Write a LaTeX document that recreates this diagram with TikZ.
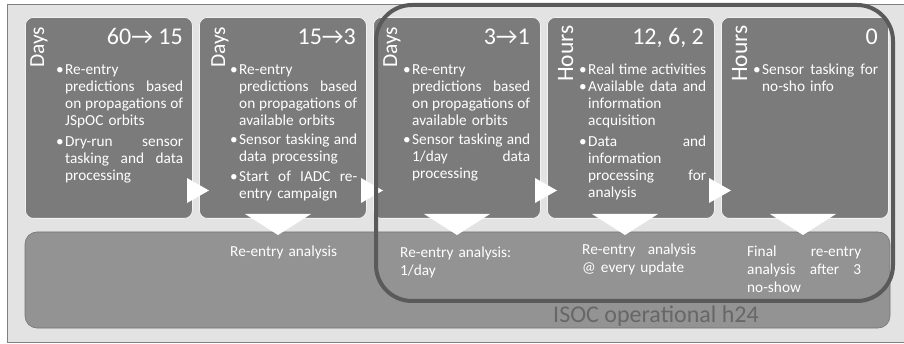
\documentclass[tikz,border=0pt]{standalone}
\usepackage{fontspec}
\setmainfont{Carlito}
\definecolor{bgc}{HTML}{E3E3E3}
\definecolor{framec}{HTML}{808080}
\definecolor{boxc}{HTML}{7B7B7B}
\definecolor{bandc}{HTML}{939393}
\definecolor{bandedge}{HTML}{767676}
\definecolor{outc}{HTML}{5A5A5A}
\definecolor{isocc}{HTML}{676767}
\tikzset{
  stagebox/.style={draw=white!90!gray, line width=0.8pt, fill=boxc, rounded corners=8pt, minimum width=167pt, minimum height=201pt, anchor=north west, inner sep=0pt},
  hdr/.style={text=white, font=\fontsize{24}{28}\selectfont, inner sep=0pt, anchor=base east},
  unit/.style={text=white, inner sep=0pt, anchor=base west, rotate=90},
  body/.style={text=white, font=\fontsize{15.3}{17}\selectfont, inner sep=0pt, anchor=base west, text width=118pt, align=left},
  lab/.style={text=white, font=\fontsize{15.3}{18}\selectfont, inner sep=0pt, anchor=base west, align=left, text width=114pt},
  tri/.style={fill=white, draw=none}
}
\newcommand{\itm}{\leavevmode\llap{\textbullet\hspace{1.5pt}}}
\newcommand{\arr}{→}
\begin{document}
\begin{tikzpicture}[x=1pt,y=-1pt]
\useasboundingbox (0,0) rectangle (904,344);
\fill[white] (0,0) rectangle (904,344);
\fill[bgc] (7,4) rectangle (904,342);
\draw[framec, line width=0.8pt] (904,4) -- (7,4) -- (7,342) -- (904,342);
% band
\draw[fill=bandc, draw=bandedge, line width=0.6pt, rounded corners=12pt] (25,232) rectangle (890,328);
\node[text=isocc, font=\fontsize{24}{28}\selectfont, inner sep=0pt, anchor=base] (isoc) at (656,323) {ISOC operational h24};
% stage boxes
\node[stagebox] (b1) at (25,17) {};
\node[stagebox] (b2) at (199,17) {};
\node[stagebox] (b3) at (373,17) {};
\node[stagebox] (b4) at (547,17) {};
\node[stagebox] (b5) at (721,17) {};
% right-pointing triangles
\foreach \r in {192,366,540,714}{
  \fill[tri] (\r-5,178) -- (\r+17,190.5) -- (\r-5,203) -- cycle;
}
% down-pointing triangles
\foreach \c in {278,457,625,803}{
  \fill[tri] (\c-33,214) -- (\c+33,214) -- (\c,235) -- cycle;
}
% unit labels
\node[unit, font=\fontsize{21.5}{24}\selectfont] (u1) at (44,68) {Days};
\node[unit, font=\fontsize{21.5}{24}\selectfont] (u2) at (225,68) {Days};
\node[unit, font=\fontsize{21.5}{24}\selectfont] (u3) at (397,68) {Days};
\node[unit, font=\fontsize{23.5}{26}\selectfont] (u4) at (573,82) {Hours};
\node[unit, font=\fontsize{23.5}{26}\selectfont] (u5) at (747,82) {Hours};
% headers
\node[hdr] (h1) at (183,45) {60\arr\ 15};
\node[hdr] (h2) at (356,45) {15\arr3};
\node[hdr] (h3) at (530,45) {3\arr1};
\node[hdr] (h4) at (704,45) {12, 6, 2};
\node[hdr] (h5) at (878,45) {0};
% bodies
\node[body] (t1) at (65,75) {\itm Re-entry\\
predictions\hfill based\\
on\hfill propagations\hfill of\\
JSpOC orbits\\[4pt]
\itm Dry-run\hfill sensor\\
tasking\hfill and\hfill data\\
processing};
\node[body] (t2) at (239,75) {\itm Re-entry\\
predictions\hfill based\\
on\hfill propagations\hfill of\\
available orbits\\[2pt]
\itm Sensor\hfill tasking\hfill and\\
data processing\\[3pt]
\itm Start\hfill of\hfill IADC\hfill re-\\
entry campaign};
\node[body] (t3) at (412,75) {\itm Re-entry\\
predictions\hfill based\\
on\hfill propagations\hfill of\\
available orbits\\[2pt]
\itm Sensor\hfill tasking\hfill and\\
1/day\hfill data\\
processing};
\node[body] (t4) at (588,75) {\itm Real\hfill time\hfill activities\\
\itm Available\hfill data\hfill and\\
information\\
acquisition\\[4pt]
\itm Data\hfill and\\
information\\
processing\hfill for\\
analysis};
\node[body, text width=116pt] (t5) at (762,75) {\itm Sensor\hfill tasking\hfill for\\
no-sho info};
% analysis labels
\node[lab] (a2) at (230,257) {Re-entry analysis};
\node[lab] (a3) at (400,258) {Re-entry analysis:\\1/day};
\node[lab] (a4) at (582,255) {Re-entry\hfill analysis\\@ every update};
\node[lab] (a5) at (747,257) {Final\hfill re-entry\\analysis\hfill after\hfill 3\\no-show};
% operational outline
\draw[outc, line width=4pt, rounded corners=36pt] (376,5) rectangle (893,301);
\end{tikzpicture}
\end{document}
